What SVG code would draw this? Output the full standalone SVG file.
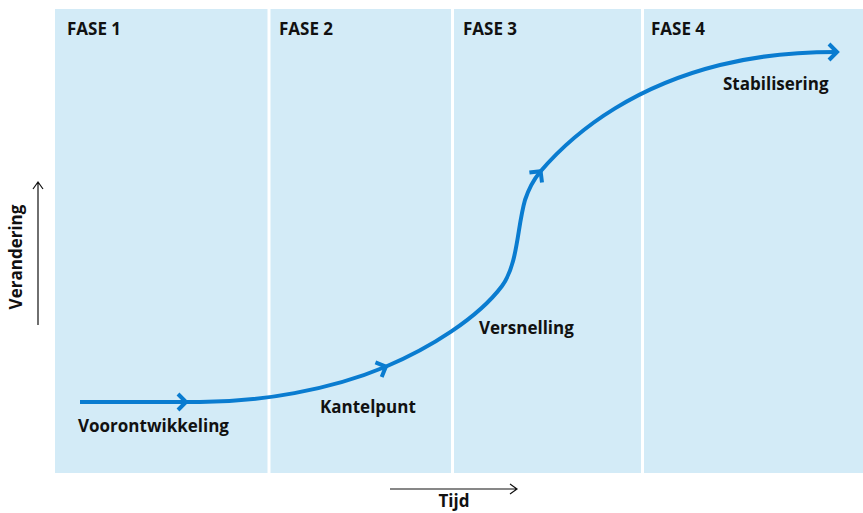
<svg xmlns="http://www.w3.org/2000/svg" width="863" height="513" viewBox="0 0 863 513">
<style>
.bg{fill:#d3ebf7}
.div{fill:#ffffff}
.t{font-family:"Open Sans","Liberation Sans",sans-serif;font-weight:bold;font-size:17px;fill:#111}
.curve{fill:none;stroke:#0a7cd0;stroke-width:4;stroke-linecap:butt;stroke-linejoin:miter}
.axis{fill:none;stroke:#111;stroke-width:1.2}
</style>
<defs>
<path id="chev" d="M-7,-8 L1,0 L-7,8" class="curve"/>
</defs>
<g id="background">
<rect class="bg" x="55" y="9" width="808" height="464"/>
<rect class="div" x="267.5" y="9" width="3" height="464"/>
<rect class="div" x="451" y="9" width="3" height="464"/>
<rect class="div" x="641" y="9" width="3" height="464"/>
</g>
<g id="phases">
<text class="t" x="67" y="35">FASE 1</text>
<text class="t" x="279" y="35">FASE 2</text>
<text class="t" x="463" y="35">FASE 3</text>
<text class="t" x="651" y="35">FASE 4</text>
</g>
<g id="connectors">
<path class="curve" d="M80,402 L200,402 C260,402 330,390 385,367 C430,348 478,318 502,286 C518,264 517,228 525,200 C530,185 535,178 540,172 C580,125 640,85 720,65 C760,55 800,52 836,52"/>
<use href="#chev" transform="translate(185,402)"/>
<use href="#chev" transform="translate(385,367) rotate(-23)"/>
<use href="#chev" transform="translate(540,172) rotate(-52)"/>
<use href="#chev" transform="translate(836,52)"/>
</g>
<g id="labels">
<text class="t" x="78" y="432">Voorontwikkeling</text>
<text class="t" x="320" y="413">Kantelpunt</text>
<text class="t" x="479" y="334">Versnelling</text>
<text class="t" x="723" y="90">Stabilisering</text>
</g>
<g id="axes">
<path class="axis" d="M38,325 L38,182 M33,189 L38,182 L43,189"/>
<text class="t" transform="translate(22,257) rotate(-90)" text-anchor="middle">Verandering</text>
<path class="axis" d="M390,489 L517,489 M510,484 L517,489 L510,494"/>
<text class="t" x="454" y="507" text-anchor="middle">Tijd</text>
</g>
</svg>
